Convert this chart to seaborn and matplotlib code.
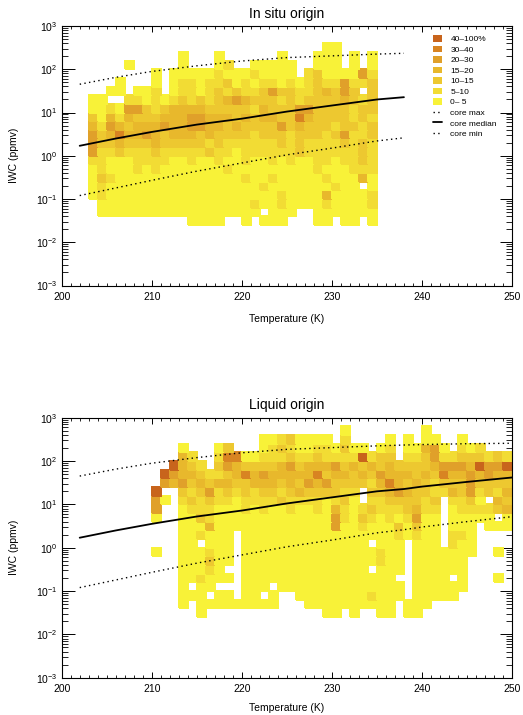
import numpy as np
import pandas as pd
import matplotlib
matplotlib.use("Agg")
import matplotlib.pyplot as plt
from matplotlib.colors import ListedColormap
from matplotlib.patches import Patch
from matplotlib.lines import Line2D
from matplotlib.ticker import LogLocator, MultipleLocator, NullFormatter
import seaborn as sns

# ---------------- data ----------------
LEVEL_LABELS = ["0– 5", "5–10", "10–15", "15–20", "20–30", "30–40", "40–100%"]
LEVEL_COLORS = ["#F8F238", "#F2DC34", "#EDC830", "#E8B82C", "#E0A02A", "#D88422", "#C8641C"]

# histogram bins: 1 K in temperature, 0.2 decade in IWC
T_STEP = 1.0
LOG_STEP = 0.2

# In situ origin: rows from top (log10 IWC 2.6) downwards, columns from 203 K
TOP_T_START = 203
TOP_LOG_TOP = 2.6
TOP_ROWS = [
    ".... .... .... .... .... .... ..00 ....",
    ".... .... ..0. ..0. .... .0.. .000 .0.0",
    ".... 0... ..0. ..01 ..00 000. .000 .0.0",
    ".... ...0 .000 0010 0010 000. 1200 0041",
    "...0 ...0 .011 0112 0101 1010 1211 4112",
    "..00 .001 .011 0121 2112 4221 1232 42.2",
    "00.. 1101 0121 2123 4322 2121 2222 3212",
    "0010 4421 2333 3222 2213 2224 4222 2122",
    "2031 3222 3334 4333 2323 3225 3222 2121",
    "3143 2333 4334 4332 3222 2423 2221 2212",
    "4235 3343 2333 2322 2212 2212 2212 4112",
    "4223 2223 2222 2121 1111 1212 1111 2121",
    "4112 1112 1111 1211 0111 1112 1111 1121",
    "1100 0111 1001 0010 0100 1010 0110 1121",
    "0100 0101 0000 0001 0000 0000 0100 0111",
    "0210 0000 0000 0000 0100 1000 0010 0030",
    "0100 0000 0000 0000 0001 0000 0001 00.0",
    "0100 0000 0000 0000 0000 0100 0030 0001",
    ".000 0000 0000 0000 0010 0100 0010 0001",
    ".000 0000 0000 0000 000. 000. .000 0000",
    ".... .... ...0 000. .0.0 00.. .00. 00.0",
]

# Liquid origin: columns from 210 K, each listed from top (log10 IWC 2.8) downwards
BOT_T_START = 210
BOT_LOG_TOP = 2.8
BOT_COLS = [
    ".... ...6 440. ..0. .... ..",
    ".... .64. 0... .... .... ..",
    ".... 643. .... .... .... ..",
    "..03 3342 1000 0000 0000 0.",
    "...1 2321 2100 0000 00.0 ..",
    ".... 1232 1120 1.00 0100 00",
    ".... .124 2113 0012 100. 0.",
    "..01 2131 1000 0000 00.0 0.",
    "..25 4232 1000 0000 .0.0 0.",
    "...5 3321 0000 .... .... 0.",
    "...0 2522 1100 0000 0000 0.",
    "...0 2331 1000 0000 0000 0.",
    ".001 2432 1100 0000 000. 0.",
    ".011 2332 1000 0000 00.0 0.",
    ".121 3321 2000 0000 000. ..",
    ".212 4332 1100 0000 000. ..",
    ".001 2323 1000 0000 0000 ..",
    ".001 3342 1000 0000 0000 0.",
    ".012 3532 1100 0000 0000 0.",
    ".011 3242 0000 0000 0000 00",
    "..01 4322 1344 0000 0000 00",
    "0121 2321 2110 0000 0000 0.",
    "..01 3221 0000 0000 0000 00",
    "..06 232. .121 0000 0000 0.",
    "...1 3212 1210 0.00 .001 0.",
    "..02 2432 1100 0011 0000 00",
    ".012 3353 2110 0000 0000 00",
    ".... 2334 2102 1000 0.00 ..",
    ".001 2323 2210 0... .... 00",
    "..01 2232 2342 1000 0000 00",
    "0032 2322 1100 0000 0000 0.",
    ".044 3211 2100 0000 0000 ..",
    "..01 4521 .... ..00 0000 ..",
    "...1 4323 1000 1100 0.00 ..",
    ".012 4322 1100 1000 000. ..",
    "..02 3444 2100 000. .... ..",
    "..12 6321 010. .... .... ..",
    "...1 4422 .100 .... .... ..",
    "...2 4321 32.0 ..0. .0.. ..",
    "...1 6323 2300 .... .... ..",
]

# core IWC curves (ppmv) vs temperature (K)
CORE_T = [202, 206, 210, 215, 220, 225, 230, 235, 238, 240, 245, 250]
CORE_MAX = [45, 65, 89, 120, 155, 186, 204, 224, 234, 240, 251, 257]
CORE_MEDIAN = [1.7, 2.5, 3.55, 5.25, 7.2, 10.5, 14.5, 20, 22.6, 25.7, 33, 41.7]
CORE_MIN = [0.12, 0.18, 0.27, 0.44, 0.68, 1.05, 1.5, 2.2, 2.6, 3.0, 4.0, 5.2]
TOP_LINE_END = 238
BOT_LINE_END = 250


def cells_from_rows(rows, t0, logtop):
    recs = []
    for r, row in enumerate(rows):
        row = row.replace(" ", "")
        for c, ch in enumerate(row):
            if ch != ".":
                recs.append((t0 + (c + 0.5) * T_STEP,
                             10 ** (logtop - (r + 0.5) * LOG_STEP),
                             int(ch) + 1))
    return pd.DataFrame(recs, columns=["T", "IWC", "w"]), len(rows[0].replace(" ", "")), len(rows)


def cells_from_cols(cols, t0, logtop):
    recs = []
    for c, col in enumerate(cols):
        col = col.replace(" ", "")
        for r, ch in enumerate(col):
            if ch != ".":
                recs.append((t0 + (c + 0.5) * T_STEP,
                             10 ** (logtop - (r + 0.5) * LOG_STEP),
                             int(ch) + 1))
    return pd.DataFrame(recs, columns=["T", "IWC", "w"]), len(cols), len(cols[0].replace(" ", ""))


# ---------------- style ----------------
sns.set_theme(style="ticks")
plt.rcParams["font.family"] = ["Liberation Sans", "DejaVu Sans"]
plt.rcParams.update({
    "axes.edgecolor": "black", "axes.linewidth": 0.8,
    "xtick.color": "black", "ytick.color": "black",
    "text.color": "black", "axes.labelcolor": "black",
    "axes.unicode_minus": True,
})

cmap = ListedColormap(LEVEL_COLORS)
dotted = (0, (1, 2.4))

fig = plt.figure(figsize=(5.23, 7.15), dpi=100)
W, H = 523.0, 715.0
ax_top = fig.add_axes([61.7 / W, 1 - 285.5 / H, 450.3 / W, 259.5 / H])
ax_bot = fig.add_axes([61.7 / W, 1 - 677.7 / H, 450.3 / W, 260.0 / H])


def draw_panel(ax, df, t0, nx, ny, logtop, title, line_end, xlab_y):
    logbot = logtop - ny * LOG_STEP
    sns.histplot(data=df, x="T", y="IWC", weights="w",
                 bins=(nx, ny), binrange=((t0, t0 + nx * T_STEP), (logbot, logtop)),
                 log_scale=(False, True), cmap=cmap, ax=ax,
                 edgecolor="face", linewidth=0.3)
    mesh = ax.collections[-1]
    mesh.set_cmap(cmap)
    mesh.set_clim(0.5, len(LEVEL_COLORS) + 0.5)

    sel = [i for i, t in enumerate(CORE_T) if t <= line_end]
    tt = [CORE_T[i] for i in sel]
    sns.lineplot(x=tt, y=[CORE_MAX[i] for i in sel], ax=ax, color="black",
                 linewidth=1.0, linestyle=dotted, errorbar=None)
    sns.lineplot(x=tt, y=[CORE_MEDIAN[i] for i in sel], ax=ax, color="black",
                 linewidth=1.3, errorbar=None)
    sns.lineplot(x=tt, y=[CORE_MIN[i] for i in sel], ax=ax, color="black",
                 linewidth=1.0, linestyle=dotted, errorbar=None)

    ax.set_xlim(200, 250)
    ax.set_ylim(1e-3, 1e3)
    ax.xaxis.set_major_locator(MultipleLocator(10))
    ax.xaxis.set_minor_locator(MultipleLocator(1))
    ax.yaxis.set_major_locator(LogLocator(base=10, numticks=10))
    ax.yaxis.set_minor_locator(LogLocator(base=10, subs=np.arange(2, 10), numticks=100))
    ax.yaxis.set_minor_formatter(NullFormatter())
    ax.tick_params(axis="both", which="both", direction="in", top=True, right=True,
                   labelsize=7.5)
    ax.tick_params(axis="x", which="major", length=4.5, width=0.7, pad=4.5)
    ax.tick_params(axis="x", which="minor", length=2.2, width=0.6)
    ax.tick_params(axis="y", which="major", length=9, width=0.7, pad=3)
    ax.tick_params(axis="y", which="minor", length=4.5, width=0.6)
    for s in ax.spines.values():
        s.set_visible(True)
        s.set_linewidth(0.8)
    ax.set_title(title, fontsize=10, pad=6)
    ax.set_xlabel("Temperature (K)", fontsize=7.5)
    ax.set_ylabel("IWC (ppmv)", fontsize=7.5)
    ax.xaxis.set_label_coords(0.5, xlab_y)
    ax.yaxis.set_label_coords(-0.095, 0.5)
    ax.grid(False)


df_top, nx_top, ny_top = cells_from_rows(TOP_ROWS, TOP_T_START, TOP_LOG_TOP)
df_bot, nx_bot, ny_bot = cells_from_cols(BOT_COLS, BOT_T_START, BOT_LOG_TOP)

draw_panel(ax_top, df_top, TOP_T_START, nx_top, ny_top, TOP_LOG_TOP, "In situ origin", TOP_LINE_END, -0.108)
draw_panel(ax_bot, df_bot, BOT_T_START, nx_bot, ny_bot, BOT_LOG_TOP, "Liquid origin", BOT_LINE_END, -0.098)

handles = [Patch(facecolor=LEVEL_COLORS[i], edgecolor="none") for i in reversed(range(len(LEVEL_COLORS)))]
labels = list(reversed(LEVEL_LABELS))
handles += [Line2D([0], [0], color="black", lw=1.0, linestyle=dotted),
            Line2D([0], [0], color="black", lw=1.3),
            Line2D([0], [0], color="black", lw=1.0, linestyle=dotted)]
labels += ["core max", "core median", "core min"]
ax_top.legend(handles, labels, loc="upper left",
              bbox_to_anchor=((433 - 61.7) / 450.3, 1 - (35 - 26) / 259.5),
              frameon=False, fontsize=6, handlelength=1.1, handleheight=0.85,
              handletextpad=1.0, labelspacing=0.28, borderpad=0, borderaxespad=0)

fig.savefig("out.png", dpi=100)
